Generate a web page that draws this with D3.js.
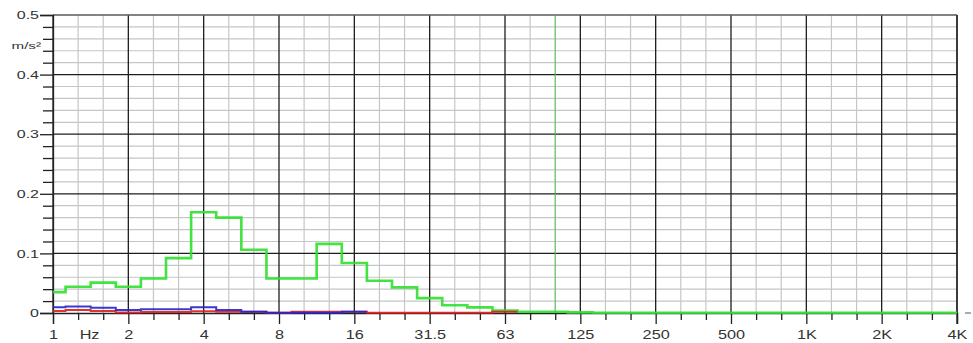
<!DOCTYPE html>
<html>
<head>
<meta charset="utf-8">
<script src="https://cdn.jsdelivr.net/npm/d3@7"></script>
<style>
  body { margin: 0; background: #fff; }
  text { font-family: "Liberation Sans", Arial, sans-serif; fill: #333; }
</style>
</head>
<body>
<script>
// third-octave band names, 1 Hz .. 4 kHz
const bands = ["1","1.25","1.6","2","2.5","3.15","4","5","6.3","8","10","12.5",
  "16","20","25","31.5","40","50","63","80","100","125","160","200","250","315",
  "400","500","630","800","1K","1.25K","1.6K","2K","2.5K","3.15K","4K"];
const octaveLabels = ["1","2","4","8","16","31.5","63","125","250","500","1K","2K","4K"];
const yLabels = ["0","0.1","0.2","0.3","0.4","0.5"];

// band levels, m/s²
const greenValues = [0.035,0.044,0.051,0.044,0.058,0.092,0.169,0.160,0.106,0.058,0.058,0.116,
  0.084,0.054,0.043,0.025,0.013,0.0095,0.004,0.002,0.002,0.001,
  0.0005,0.0005,0.0005,0.0005,0.0005,0.0005,0.0005,0.0005,0.0005,0.0005,0.0005,0.0005,0.0005,0.0005,0.0005];
const redValues = [0.0035,0.005,0.0035,0.001,0.0015,0.0015,0.003,0.002,0.002,0.0003,0.002,0.002,
  0.002,0.0005,0.0005,0.0005,0.0005,0.0005,0.002];
const blueValues = [0.0095,0.011,0.009,0.005,0.0065,0.0065,0.0095,0.005,0.002,0.0003,0.0005,0.0005,0.002];
const markerBand = "100";

const width = 973, height = 343;
const margin = {top: 15, right: 16, bottom: 30, left: 53};

let svg = d3.select("body").append("svg")
    .attr("width", width)
    .attr("height", height);

// band i sits at 2^(i/3) Hz on the plot
const bandFreq = i => Math.pow(2, i / 3);
const fMin = 1, fMax = 4096;

let xScale = d3.scaleLog().base(2)
    .domain([fMin, fMax])
    .range([margin.left, width - margin.right]);
let yScale = d3.scaleLinear()
    .domain([0, 0.5])
    .range([height - margin.bottom, margin.top]);

let thirds = d3.range(0, 37).map(bandFreq);
let minorX = thirds.filter((d, i) => i % 3 != 0);
let majorX = octaveLabels.map((d, i) => Math.pow(2, i));
let minorY = d3.range(1, 25).map(i => i * 0.02).filter((d, i) => (i + 1) % 5 != 0);
let majorY = yLabels.map((d, i) => i * 0.1);

// grid
let grid = svg.append("g");
grid.selectAll(".vmin").data(minorX).enter().append("line")
  .attr("x1", d => xScale(d)).attr("x2", d => xScale(d))
  .attr("y1", yScale(0.5)).attr("y2", yScale(0))
  .attr("stroke", "#c6c6c6").attr("stroke-width", 1.2);
grid.selectAll(".hmin").data(minorY).enter().append("line")
  .attr("x1", xScale(fMin)).attr("x2", xScale(fMax))
  .attr("y1", d => yScale(d)).attr("y2", d => yScale(d))
  .attr("stroke", "#c6c6c6").attr("stroke-width", 1.2);
grid.selectAll(".vmaj").data(majorX).enter().append("line")
  .attr("x1", d => xScale(d)).attr("x2", d => xScale(d))
  .attr("y1", yScale(0.5)).attr("y2", yScale(0))
  .attr("stroke", "#1e1e1e").attr("stroke-width", 1.3);
grid.selectAll(".hmaj").data(majorY.slice(1, 5)).enter().append("line")
  .attr("x1", xScale(fMin)).attr("x2", xScale(fMax))
  .attr("y1", d => yScale(d)).attr("y2", d => yScale(d))
  .attr("stroke", "#1e1e1e").attr("stroke-width", 1.3);
grid.append("line")
  .attr("x1", xScale(fMin)).attr("x2", xScale(fMax))
  .attr("y1", yScale(0.5)).attr("y2", yScale(0.5))
  .attr("stroke", "#5a5a5a").attr("stroke-width", 1.6);

// x axis: minor ticks then labelled octaves
let xMinorAxis = d3.axisBottom(xScale).tickValues(minorX).tickSize(7).tickFormat("");
svg.append("g").attr("transform", `translate(0,${yScale(0)})`).call(xMinorAxis)
  .call(g => g.select(".domain").remove())
  .call(g => g.selectAll("line").attr("stroke", "#222").attr("stroke-width", 1.3));
let xAxis = d3.axisBottom(xScale).tickValues(majorX).tickSize(11)
    .tickFormat((d, i) => octaveLabels[i]);
svg.append("g").attr("transform", `translate(0,${yScale(0)})`).call(xAxis)
  .call(g => g.select(".domain").attr("stroke", "#222").attr("stroke-width", 1.3))
  .call(g => g.selectAll("line").attr("stroke", "#222").attr("stroke-width", 1.3))
  .call(g => g.selectAll("text")
    .attr("y", 26).attr("dy", 0)
    .attr("transform", "scale(1.25,1)")
    .style("font-size", "13px").style("fill", "#333"));
svg.append("text")
  .attr("transform", `translate(${xScale(1.4)},${yScale(0) + 26}) scale(1.25,1)`)
  .attr("text-anchor", "middle")
  .style("font-size", "13px")
  .text("Hz");

// y axis
let yMinorAxis = d3.axisLeft(yScale).tickValues(minorY).tickSize(10).tickFormat("");
svg.append("g").attr("transform", `translate(${xScale(fMin)},0)`).call(yMinorAxis)
  .call(g => g.select(".domain").remove())
  .call(g => g.selectAll("line").attr("stroke", "#222").attr("stroke-width", 1.3));
let yAxis = d3.axisLeft(yScale).tickValues(majorY).tickSize(13)
    .tickFormat((d, i) => yLabels[i]);
svg.append("g").attr("transform", `translate(${xScale(fMin)},0)`).call(yAxis)
  .call(g => g.select(".domain").attr("stroke", "#222").attr("stroke-width", 1.3))
  .call(g => g.selectAll("line").attr("stroke", "#222").attr("stroke-width", 1.3))
  .call(g => g.selectAll("text")
    .attr("x", -14 / 1.6).attr("dy", "0.36em")
    .attr("transform", "scale(1.6,1)")
    .style("font-size", "10px").style("fill", "#333"));
svg.append("text")
  .attr("transform", `translate(${xScale(fMin) - 12},${yScale(0.46) + 10}) scale(1.6,1)`)
  .attr("text-anchor", "end")
  .style("font-size", "9.5px")
  .text("m/s²");

// right border
svg.append("line")
  .attr("x1", xScale(fMax)).attr("x2", xScale(fMax))
  .attr("y1", yScale(0.5)).attr("y2", yScale(0) + 11)
  .attr("stroke", "#222").attr("stroke-width", 1.3);
svg.append("line")
  .attr("x1", xScale(fMax) + 8).attr("x2", xScale(fMax) + 14)
  .attr("y1", yScale(0)).attr("y2", yScale(0))
  .attr("stroke", "#555").attr("stroke-width", 1);

// 100 Hz marker
let mx = xScale(bandFreq(bands.indexOf(markerBand)));
svg.append("line")
  .attr("x1", mx).attr("x2", mx)
  .attr("y1", yScale(0.5)).attr("y2", yScale(0))
  .attr("stroke", "#55c855").attr("stroke-width", 1);

// step traces, one flat segment per band
function stepPoints(values) {
  let pts = [];
  values.forEach((v, i) => {
    let lo = Math.max(fMin, Math.pow(2, (i - 0.5) / 3));
    let hi = Math.min(fMax, Math.pow(2, (i + 0.5) / 3));
    pts.push([lo, v], [hi, v]);
  });
  return pts;
}
let lineGen = d3.line()
    .x(d => xScale(d[0]))
    .y(d => yScale(d[1]));

let traces = [
  {values: greenValues, color: "#2ee02e", w: 2.6},
  {values: redValues, color: "#dd1c1c", w: 2},
  {values: blueValues, color: "#2424cc", w: 2}
];
svg.append("g")
  .selectAll("path")
  .data(traces)
  .enter()
  .append("path")
  .attr("fill", "none")
  .attr("stroke", d => d.color)
  .attr("stroke-width", d => d.w)
  .attr("stroke-opacity", 0.9)
  .attr("d", d => lineGen(stepPoints(d.values)));
</script>
</body>
</html>
